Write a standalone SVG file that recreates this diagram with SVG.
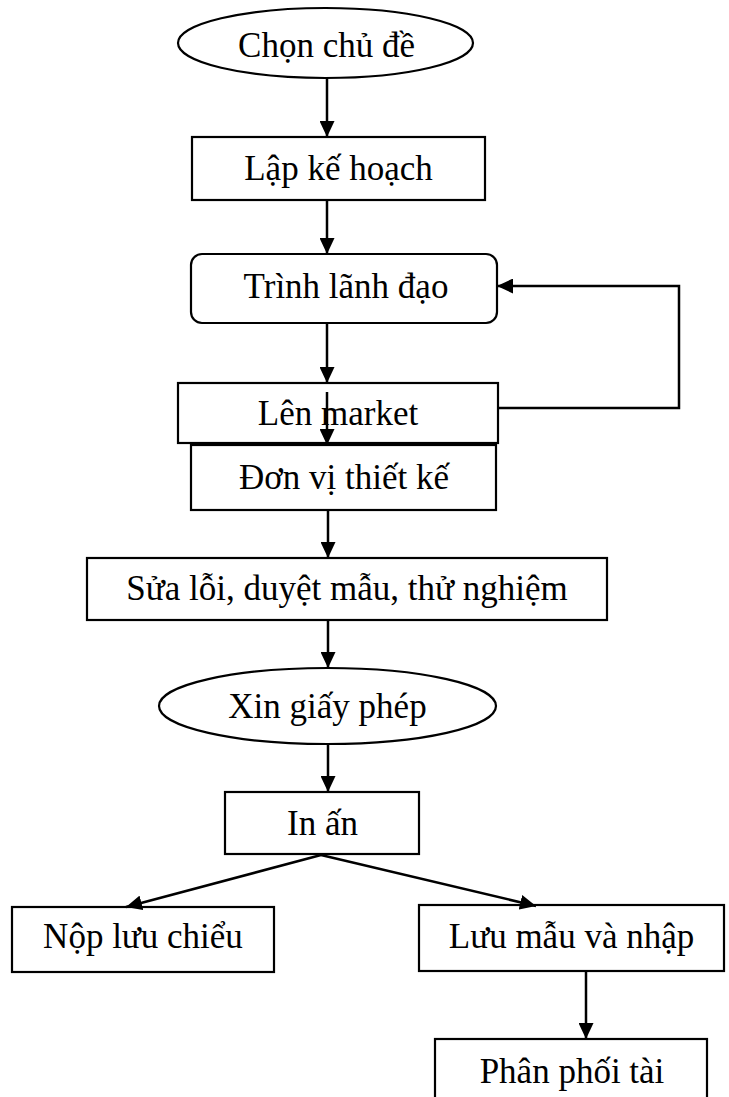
<svg xmlns="http://www.w3.org/2000/svg" width="729" height="1097" viewBox="0 0 729 1097">
<style>
.shape{fill:#fff;stroke:#000;stroke-width:2.2}
.lbl{font-family:"Liberation Serif","Times New Roman",serif;font-size:35px;fill:#000;text-anchor:middle}
.conn{fill:none;stroke:#000;stroke-width:2.5}
</style>
<defs>
<marker id="arr" markerUnits="userSpaceOnUse" markerWidth="16" markerHeight="15" refX="16" refY="7.5" orient="auto">
<path d="M0,0 L16,7.5 L0,15 z" fill="#000"/>
</marker>
</defs>
<rect width="729" height="1097" fill="#fff"/>
<g id="n1"><ellipse class="shape" cx="325.5" cy="43" rx="147.5" ry="35"/><text class="lbl" x="326.5" y="57">Chọn chủ đề</text></g>
<g id="n2"><rect class="shape" x="192" y="137" width="293" height="63"/><text class="lbl" x="338.5" y="180">Lập kế hoạch</text></g>
<g id="n3"><rect class="shape" x="191" y="254" width="306" height="69" rx="11"/><text class="lbl" x="346" y="298">Trình lãnh đạo</text></g>
<g id="n4"><rect class="shape" x="178" y="383" width="320" height="60"/><text class="lbl" x="338" y="425">Lên market</text></g>
<g id="n5"><rect class="shape" x="191" y="445" width="305" height="65"/><text class="lbl" x="344" y="489">Đơn vị thiết kế</text></g>
<g id="n6"><rect class="shape" x="87" y="558" width="520" height="62"/><text class="lbl" x="347" y="600">Sửa lỗi, duyệt mẫu, thử nghiệm</text></g>
<g id="n7"><ellipse class="shape" cx="327.5" cy="706" rx="168.5" ry="38"/><text class="lbl" x="327.5" y="718">Xin giấy phép</text></g>
<g id="n8"><rect class="shape" x="225" y="792" width="194" height="62"/><text class="lbl" x="322.5" y="835">In ấn</text></g>
<g id="n9"><rect class="shape" x="12" y="907" width="262" height="65"/><text class="lbl" x="143" y="948">Nộp lưu chiểu</text></g>
<g id="n10"><rect class="shape" x="419" y="905" width="305" height="66"/><text class="lbl" x="571.5" y="948">Lưu mẫu và nhập</text></g>
<g id="n11"><rect class="shape" x="435" y="1039" width="272" height="70"/><text class="lbl" x="572" y="1083">Phân phối tài</text></g>
<g id="connectors">
<path class="conn" d="M327,78 V137" marker-end="url(#arr)"/>
<path class="conn" d="M327,200 V254" marker-end="url(#arr)"/>
<path class="conn" d="M327,323 V383" marker-end="url(#arr)"/>
<path class="conn" d="M327,392 V445" marker-end="url(#arr)"/>
<path class="conn" d="M498,408 H679 V286 H497" marker-end="url(#arr)"/>
<path class="conn" d="M328,510 V558" marker-end="url(#arr)"/>
<path class="conn" d="M328,620 V668" marker-end="url(#arr)"/>
<path class="conn" d="M328,744 V792" marker-end="url(#arr)"/>
<path class="conn" d="M321,855 L126,907" marker-end="url(#arr)"/>
<path class="conn" d="M321,855 L536,906" marker-end="url(#arr)"/>
<path class="conn" d="M586,971 V1039" marker-end="url(#arr)"/>
</g>
</svg>
